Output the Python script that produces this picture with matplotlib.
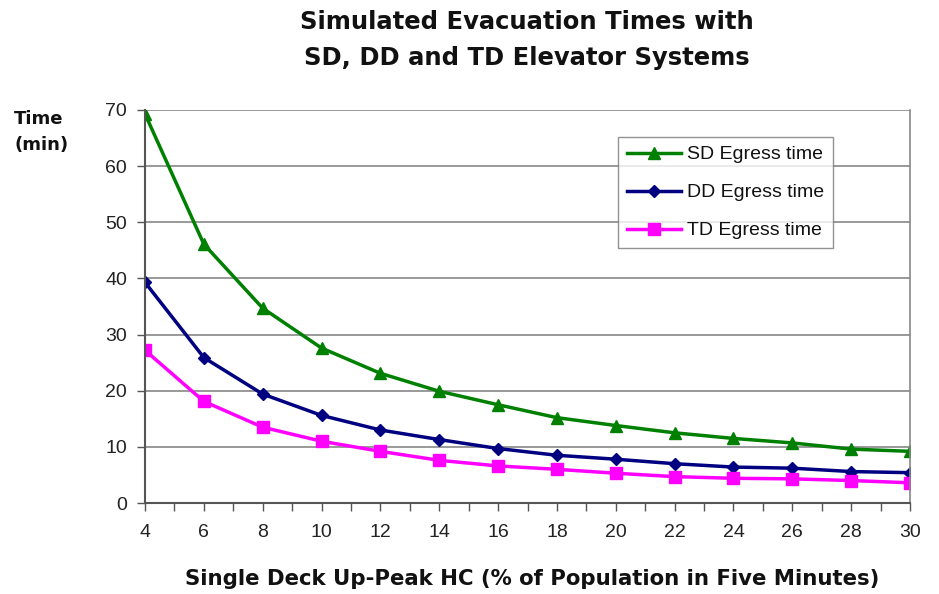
import matplotlib
matplotlib.use("Agg")
import matplotlib.pyplot as plt
from matplotlib.ticker import MultipleLocator

hc = [4, 6, 8, 10, 12, 14, 16, 18, 20, 22, 24, 26, 28, 30]
sd = [69.3, 46.1, 34.7, 27.6, 23.1, 19.9, 17.5, 15.2, 13.8, 12.5, 11.5, 10.7, 9.6, 9.2]
dd = [39.3, 25.9, 19.4, 15.6, 13.0, 11.3, 9.7, 8.5, 7.8, 7.0, 6.4, 6.2, 5.6, 5.4]
td = [27.2, 18.1, 13.5, 11.0, 9.2, 7.6, 6.6, 6.0, 5.3, 4.7, 4.4, 4.3, 4.0, 3.6]
labels = ["SD Egress time", "DD Egress time", "TD Egress time"]

plt.rcParams['font.family'] = ['Liberation Sans', 'DejaVu Sans']
wide = ['DejaVu Sans']

fig = plt.figure(figsize=(9.39, 5.94), dpi=100)
ax = fig.add_axes([145/939, 1-503/594, (910-145)/939, (503-110)/594])

ax.plot(hc, sd, color='#008000', lw=2.5, marker='^', ms=9, label=labels[0])
ax.plot(hc, dd, color='#000080', lw=2.5, marker='D', ms=6, label=labels[1])
ax.plot(hc, td, color='#FF00FF', lw=2.5, marker='s', ms=8, label=labels[2])

ax.set_xlim(4, 30)
ax.set_ylim(0, 70)
ax.set_xticks(range(4, 31, 2))
ax.xaxis.set_minor_locator(MultipleLocator(1))
ax.set_yticks(range(0, 71, 10))
ax.yaxis.grid(True, color='#888888', lw=1.2)
ax.set_axisbelow(True)
ax.tick_params(axis='both', labelsize=14, direction='out', color='#555555', length=6, width=1)
ax.tick_params(axis='x', which='minor', direction='out', length=6, width=1, color='#555555')
ax.tick_params(axis='x', pad=9)
ax.tick_params(axis='y', pad=7)
for t in ax.get_xticklabels() + ax.get_yticklabels():
    t.set_color('#222222')
for s in ['left', 'bottom']:
    ax.spines[s].set_color('#555555')
    ax.spines[s].set_linewidth(1.5)
for s in ['right', 'top']:
    ax.spines[s].set_color('#888888')
    ax.spines[s].set_linewidth(1.2)
ax.spines['top'].set_visible(False)

leg = ax.legend(loc='upper left', bbox_to_anchor=((618-145)/765, (503-137)/393), fontsize=14,
                frameon=True, fancybox=False, edgecolor='#777777', handlelength=2.8,
                labelspacing=1.05, borderpad=0.45, handletextpad=0.3, borderaxespad=0)
leg.get_frame().set_linewidth(1.0)
for t in leg.get_texts():
    t.set_color('#111111')

fig.text(527/939, 1-22/594, "Simulated Evacuation Times with", ha='center', va='center',
         fontsize=17.5, fontweight='bold', family=wide, color='#111111')
fig.text(527/939, 1-58/594, "SD, DD and TD Elevator Systems", ha='center', va='center',
         fontsize=17.5, fontweight='bold', family=wide, color='#111111')
fig.text(14/939, 1-132/594, "Time\n(min)", ha='left', va='center', fontsize=13,
         fontweight='bold', linespacing=1.5, family=wide, color='#111111')
fig.text(532/939, 1-579/594, "Single Deck Up-Peak HC (% of Population in Five Minutes)",
         ha='center', va='center', fontsize=15.3, fontweight='bold', family=wide, color='#111111')

fig.savefig("out.png", dpi=100)
